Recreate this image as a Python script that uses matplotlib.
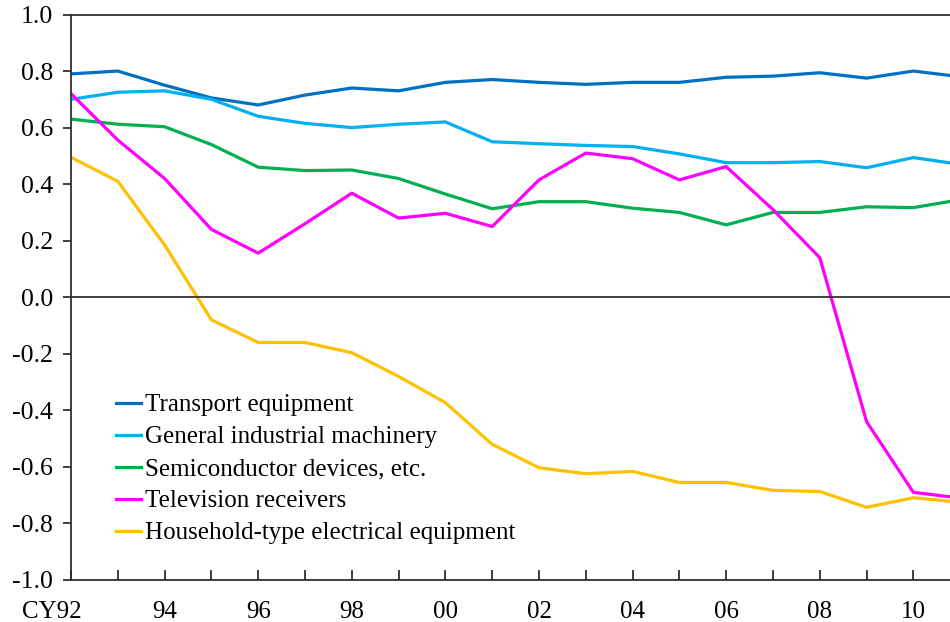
import matplotlib.pyplot as plt
import matplotlib.transforms as mtransforms

# correlation coefficients, CY1992-2011
years = list(range(1992, 2012))

transport = [0.79, 0.80, 0.75, 0.705, 0.68, 0.715, 0.74, 0.73, 0.76, 0.77,
             0.76, 0.753, 0.76, 0.76, 0.778, 0.782, 0.794, 0.775, 0.80, 0.78]
machinery = [0.70, 0.725, 0.73, 0.70, 0.64, 0.615, 0.60, 0.612, 0.62, 0.55,
             0.543, 0.537, 0.533, 0.507, 0.476, 0.476, 0.48, 0.458, 0.494, 0.47]
semiconductor = [0.63, 0.612, 0.603, 0.54, 0.46, 0.448, 0.45, 0.42, 0.365, 0.313,
                 0.338, 0.338, 0.315, 0.30, 0.256, 0.30, 0.30, 0.32, 0.317, 0.345]
television = [0.72, 0.556, 0.42, 0.24, 0.156, 0.26, 0.368, 0.28, 0.297, 0.25,
              0.415, 0.51, 0.49, 0.415, 0.462, 0.31, 0.14, -0.44, -0.69, -0.71]
household = [0.495, 0.41, 0.185, -0.08, -0.16, -0.16, -0.196, -0.28, -0.373, -0.52,
             -0.603, -0.624, -0.616, -0.655, -0.655, -0.683, -0.687, -0.743, -0.709, -0.725]

labels = ['Transport equipment', 'General industrial machinery',
          'Semiconductor devices, etc.', 'Television receivers',
          'Household-type electrical equipment']
colors = ['#0070C0', '#00B0F0', '#00B050', '#FF00FF', '#FFC000']

tick_years = list(range(1992, 2011, 2))
tick_labels = ['CY92', '94', '96', '98', '00', '02', '04', '06', '08', '10']

plt.rcParams['font.family'] = ['Liberation Serif', 'DejaVu Serif']

fig = plt.figure(figsize=(9.5, 6.22), dpi=100)
ax = fig.add_axes([71 / 950, 1 - 580 / 622, 1 - 71 / 950, (580 - 14.5) / 622])

series = [transport, machinery, semiconductor, television, household]
for vals, lab, col in zip(series, labels, colors):
    ax.plot(years, vals, color=col, lw=2.3, label=lab)

ax.axhline(0, color='#303030', lw=1.3)

ax.set_xlim(1992, 1992 + 879 / 46.8)
ax.set_ylim(-1.0, 1.0)
ax.set_yticks([i / 5 for i in range(-5, 6)])
ax.set_yticklabels([f'{i / 5:.1f}' for i in range(-5, 6)], fontsize=18.5)
ax.set_xticks(list(range(1992, 2011)))
ax.set_xticklabels([tick_labels[tick_years.index(y)] if y in tick_years else ''
                    for y in range(1992, 2011)], fontsize=18)

ax.tick_params(axis='y', direction='out', length=6, width=1.3, color='#303030', pad=7)
ax.tick_params(axis='x', direction='in', length=7, width=1.3, color='#303030', pad=15)

# shift "CY92" left like the original
first = ax.get_xticklabels()[0]
first.set_transform(first.get_transform() +
                    mtransforms.ScaledTranslation(-19 / 100, 0, fig.dpi_scale_trans))

for side in ['left', 'bottom', 'top']:
    ax.spines[side].set_color('#303030')
    ax.spines[side].set_linewidth(1.3)
ax.spines['right'].set_visible(False)

ax.legend(loc='upper left', bbox_to_anchor=(0.04, 0.347), frameon=False,
          fontsize=18, handlelength=1.0, handletextpad=0.15, labelspacing=0.38,
          borderaxespad=0)

fig.savefig('out.png', dpi=100)
